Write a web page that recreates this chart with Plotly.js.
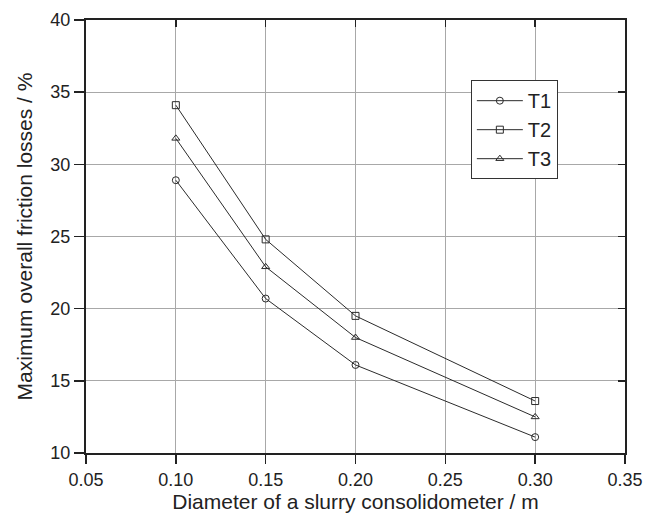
<!DOCTYPE html>
<html><head><meta charset="utf-8">
<script src="https://cdn.plot.ly/plotly-3.0.1.min.js"></script>
<style>html,body{margin:0;padding:0;background:#fff}#chart{width:661px;height:513px}</style>
</head><body><div id="chart"></div>
<script>
const diameters = [0.10, 0.15, 0.20, 0.30];
const seriesNames = ["T1", "T2", "T3"];
const t1 = [28.9, 20.7, 16.1, 11.1];
const t2 = [34.1, 24.8, 19.5, 13.6];
const t3 = [31.8, 22.9, 18.0, 12.5];
const xTicks = [0.05, 0.10, 0.15, 0.20, 0.25, 0.30, 0.35];
const yTicks = [10, 15, 20, 25, 30, 35, 40];

const symbols = ["circle-open", "square-open", "triangle-up-open"];
const vals = [t1, t2, t3];
const traces = vals.map((v, i) => ({
  x: diameters, y: v, name: seriesNames[i], type: "scatter", mode: "lines+markers",
  line: {color: "#2b2b2b", width: 1},
  marker: {symbol: symbols[i], size: 7, color: "#2b2b2b", line: {color: "#2b2b2b", width: 1}}
}));
traces.push({x: [xTicks[0]], y: [yTicks[0]], xaxis: "x2", yaxis: "y2", mode: "markers", marker: {opacity: 0}, showlegend: false, hoverinfo: "skip"});

const fam = "Liberation Sans, Arial, sans-serif";
const ink = "#222";
const xRange = [0.05, 0.35], yRange = [10, 40];
const layout = {
  width: 661, height: 513,
  margin: {l: 86, r: 36, t: 20, b: 60},
  paper_bgcolor: "#fff", plot_bgcolor: "#fff",
  font: {family: fam, color: ink},
  showlegend: true,
  legend: {x: 0.714, y: 0.861, xanchor: "left", yanchor: "top", bordercolor: "#333", borderwidth: 1,
    bgcolor: "#fff", font: {size: 20, family: fam, color: ink}, tracegroupgap: 0, itemwidth: 46},
  xaxis: {
    range: xRange, tickvals: xTicks, ticktext: xTicks.map(v => v.toFixed(2)),
    showgrid: true, gridcolor: "#a8a8a8", gridwidth: 1,
    showline: true, linecolor: ink, linewidth: 2, mirror: true,
    ticks: "outside", ticklen: 9, tickwidth: 1.5, tickcolor: ink,
    tickfont: {size: 18, family: fam, color: ink},
    zeroline: false,
    title: {text: "Diameter of a slurry consolidometer / m", font: {size: 21, family: fam, color: ink}, standoff: 8}
  },
  xaxis2: {
    range: xRange, tickvals: xTicks, overlaying: "x", side: "top", anchor: "y",
    showticklabels: false, showgrid: false, zeroline: false, showline: false,
    ticks: "inside", ticklen: 7, tickwidth: 1.5, tickcolor: ink
  },
  yaxis: {
    range: yRange, tickvals: yTicks,
    showgrid: true, gridcolor: "#a8a8a8", gridwidth: 1,
    showline: true, linecolor: ink, linewidth: 2, mirror: true,
    ticks: "outside", ticklen: 10, tickwidth: 1.5, tickcolor: ink,
    tickfont: {size: 18, family: fam, color: ink},
    zeroline: false,
    title: {text: "Maximum overall friction losses / %", font: {size: 21, family: fam, color: ink}, standoff: 12}
  },
  yaxis2: {
    range: yRange, tickvals: yTicks, overlaying: "y", side: "right", anchor: "x",
    showticklabels: false, showgrid: false, zeroline: false, showline: false,
    ticks: "inside", ticklen: 7, tickwidth: 1.5, tickcolor: ink
  }
};
Plotly.newPlot("chart", traces, layout, {staticPlot: true, displayModeBar: false});
</script></body></html>
